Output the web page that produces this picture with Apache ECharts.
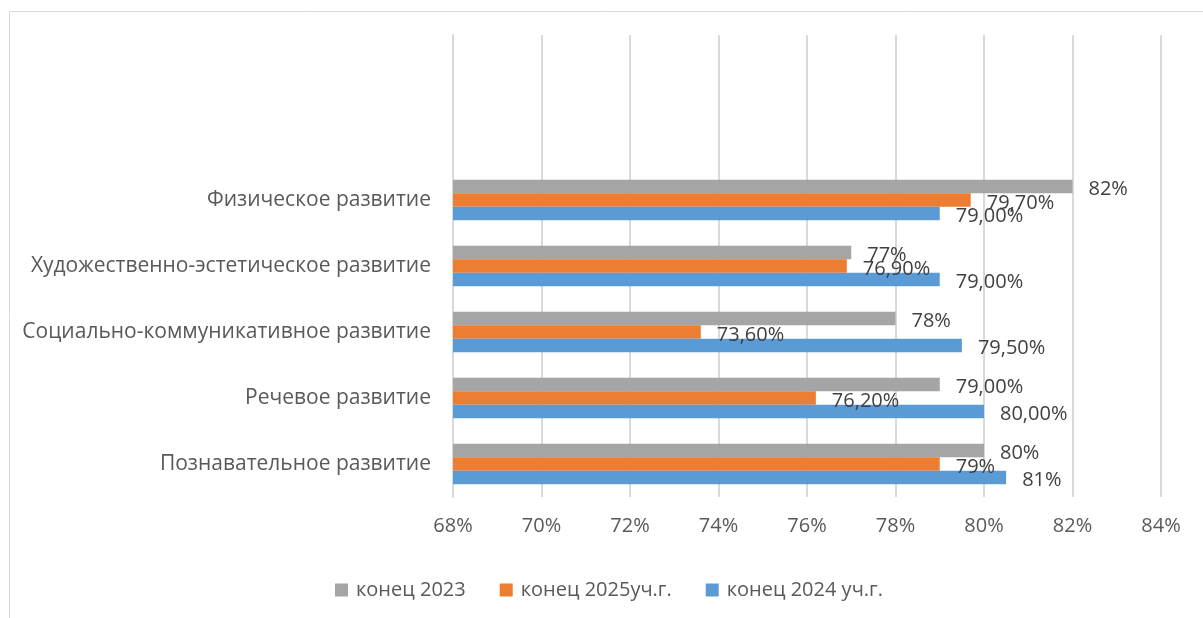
<!DOCTYPE html>
<html>
<head>
<meta charset="utf-8">
<script src="https://cdn.jsdelivr.net/npm/echarts@6/dist/echarts.min.js"></script>
<style>
  html, body { margin: 0; padding: 0; background: #fff; }
  #chart { width: 1203px; height: 618px; }
</style>
</head>
<body>
<div id="chart"></div>
<script>
// categories bottom -> top (two empty slots at the top, as in the original)
var categories = ['Познавательное развитие', 'Речевое развитие', 'Социально-коммуникативное развитие',
    'Художественно-эстетическое развитие', 'Физическое развитие', '', ''];

var values2023 = [80, 79, 78, 77, 82, null, null];
var values2025 = [79, 76.2, 73.6, 76.9, 79.7, null, null];
var values2024 = [80.5, 80, 79.5, 79, 79, null, null];

var labels2023 = ['80%', '79,00%', '78%', '77%', '82%', '', ''];
var labels2025 = ['79%', '76,20%', '73,60%', '76,90%', '79,70%', '', ''];
var labels2024 = ['81%', '80,00%', '79,50%', '79,00%', '79,00%', '', ''];

var legendNames = ['конец 2023', 'конец 2025уч.г.', 'конец 2024 уч.г.'];

var FONT = '"Open Sans", "Noto Sans", sans-serif';

function makeSeries(name, values, labels, color) {
    return {
        name: name,
        type: 'bar',
        data: values,
        barWidth: 13.5,
        barGap: '0%',
        itemStyle: { color: color },
        label: {
            show: true,
            position: 'right',
            distance: 16,
            offset: [0, 3],
            color: '#404040',
            fontFamily: FONT,
            fontSize: 20,
            formatter: function (p) { return labels[p.dataIndex]; }
        }
    };
}

var myChart = echarts.init(document.getElementById('chart'));
myChart.setOption({
    animation: false,
    graphic: [{
        type: 'rect',
        shape: { x: 9.5, y: 11.5, width: 1210, height: 620 },
        style: { fill: 'none', stroke: '#d9d9d9', lineWidth: 1 },
        silent: true
    }],
    legend: {
        data: legendNames,
        left: 330,
        top: 575,
        itemWidth: 13,
        itemHeight: 13,
        itemGap: 34,
        icon: 'rect',
        textStyle: { color: '#595959', fontFamily: FONT, fontSize: 20, padding: [0, 0, 0, 3] }
    },
    grid: { left: 453, right: 42, top: 35, bottom: 121, containLabel: false },
    xAxis: {
        type: 'value',
        min: 68,
        max: 84,
        interval: 2,
        axisLine: { show: false },
        axisTick: { show: false },
        splitLine: { lineStyle: { color: '#d9d9d9', width: 2 } },
        axisLabel: {
            formatter: '{value}%',
            color: '#595959',
            fontFamily: FONT,
            fontSize: 20,
            margin: 19
        }
    },
    yAxis: {
        type: 'category',
        data: categories,
        axisLine: { show: true, lineStyle: { color: '#d9d9d9', width: 2 } },
        axisTick: { show: false },
        axisLabel: {
            color: '#595959',
            fontFamily: FONT,
            fontSize: 21,
            margin: 22
        }
    },
    series: [
        makeSeries('конец 2023', values2023, labels2023, '#a5a5a5'),
        makeSeries('конец 2025уч.г.', values2025, labels2025, '#ed7d31'),
        makeSeries('конец 2024 уч.г.', values2024, labels2024, '#5b9bd5')
    ]
});
</script>
</body>
</html>
